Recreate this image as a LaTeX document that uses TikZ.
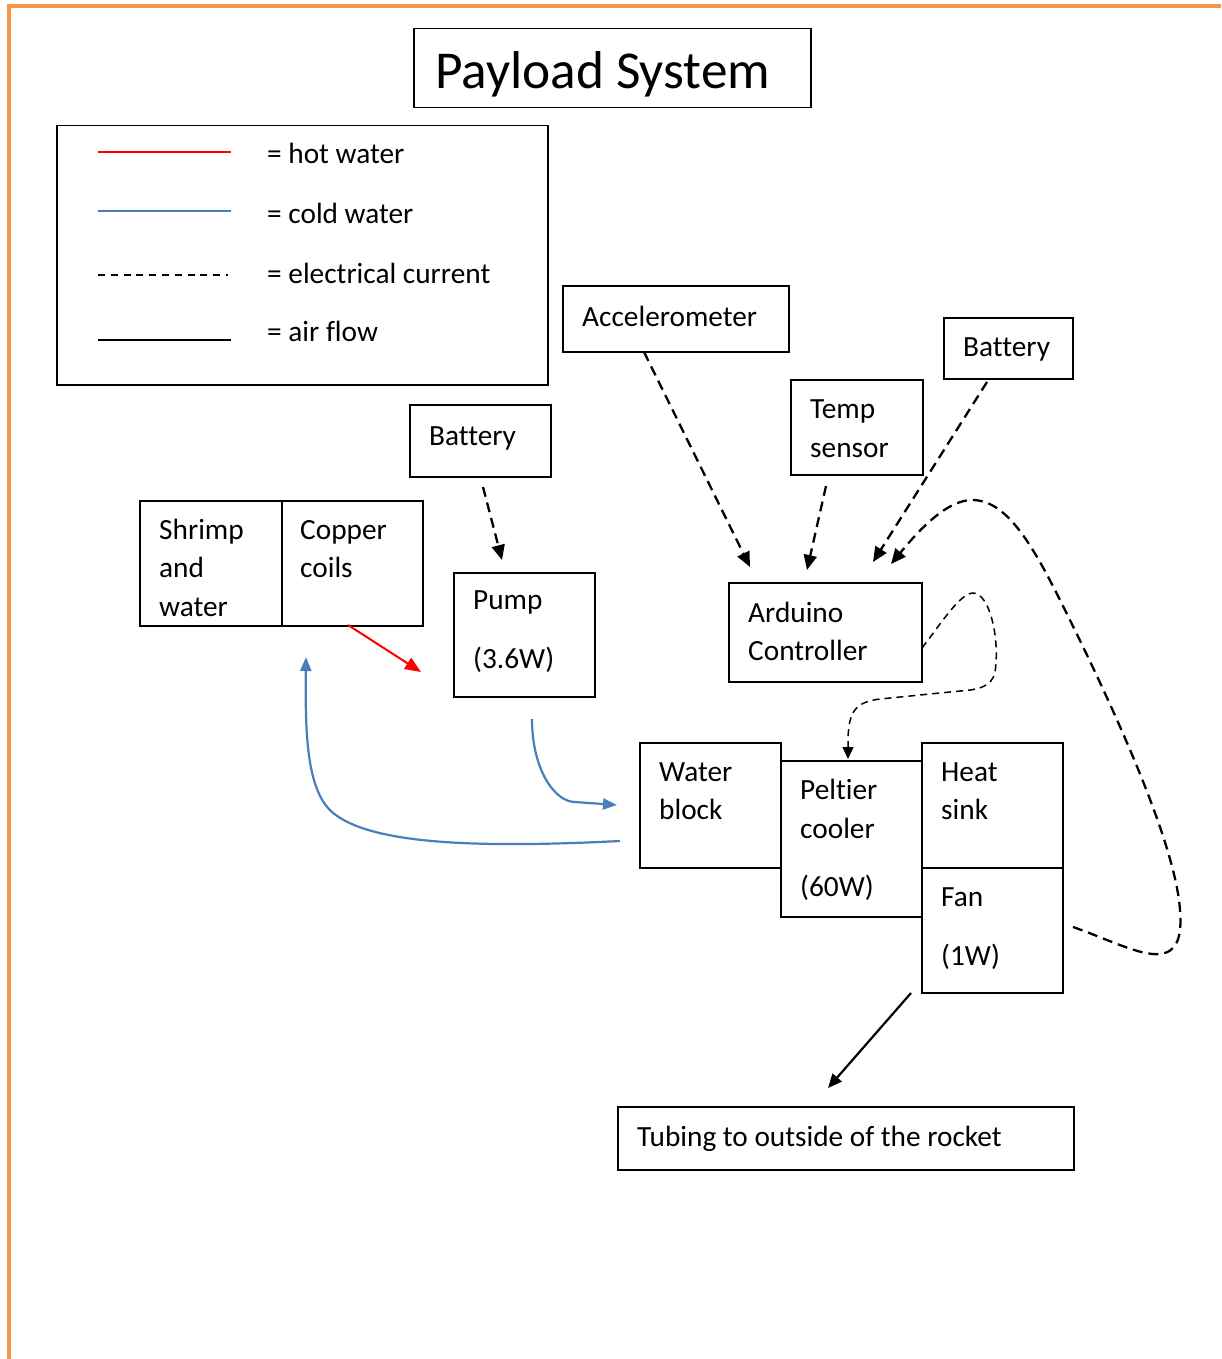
\documentclass[tikz,border=0pt]{standalone}
\usepackage{fontspec}
\setmainfont{Carlito}[Ligatures={NoCommon}]
\usetikzlibrary{arrows.meta}
\definecolor{borderorange}{HTML}{F79646}
\definecolor{coldblue}{HTML}{4A7EBB}
\definecolor{hotred}{HTML}{FF0000}
\begin{document}
\begin{tikzpicture}[x=1pt,y=-1pt,
  box/.style={draw, line width=1.5pt, inner sep=0pt, anchor=north west},
  txt/.style={anchor=base west, inner sep=0pt, font=\fontsize{29.3}{35}\selectfont},
  titletxt/.style={anchor=base west, inner sep=0pt, font=\fontsize{53.3}{60}\selectfont},
  elec/.style={line width=2.3pt, dash pattern=on 10pt off 6pt, -{Triangle[length=15pt,width=13pt]}},
  electhin/.style={line width=1.5pt, dash pattern=on 7pt off 5pt, -{Triangle[length=12pt,width=11pt]}},
  hot/.style={hotred, line width=2pt, -{Triangle[length=16pt,width=13pt]}},
  cold/.style={coldblue, line width=2.2pt, -{Triangle[length=14pt,width=11pt]}},
  air/.style={black, line width=2.2pt, -{Triangle[length=14pt,width=12pt]}},
  legline/.style={line width=2pt},
]
\useasboundingbox (0,0) rectangle (1221,1359);
\fill[white] (0,0) rectangle (1221,1359);
% page border
\draw[borderorange, line width=4pt] (8.5,1359) -- (8.5,6.5) -- (1221,6.5);

% boxes
\node[box, minimum width=397pt, minimum height=79pt] (titlebox) at (413,28) {};
\node[box, minimum width=491pt, minimum height=259pt] (legend) at (56,125) {};
\node[box, minimum width=226pt, minimum height=66pt] (acc) at (562,285) {};
\node[box, minimum width=129pt, minimum height=61pt] (batR) at (943,317) {};
\node[box, minimum width=132pt, minimum height=95pt] (temp) at (790,379) {};
\node[box, minimum width=141pt, minimum height=72pt] (batL) at (409,404) {};
\node[box, minimum width=142pt, minimum height=125pt] (shrimp) at (139,500) {};
\node[box, minimum width=141pt, minimum height=125pt] (copper) at (281,500) {};
\node[box, minimum width=141pt, minimum height=124pt] (pump) at (453,572) {};
\node[box, minimum width=193pt, minimum height=99pt] (ard) at (728,582) {};
\node[box, minimum width=141pt, minimum height=125pt] (water) at (639,742) {};
\node[box, minimum width=141pt, minimum height=156pt, fill=white] (peltier) at (780,760) {};
\node[box, minimum width=141pt, minimum height=125pt] (heat) at (921,742) {};
\node[box, minimum width=141pt, minimum height=125pt] (fan) at (921,867) {};
\node[box, minimum width=456pt, minimum height=63pt] (tube) at (617,1106) {};

% texts
\node[titletxt] (ttitle) at (435,89) {Payload System};
\node[txt] (lg1) at (267,164) {= hot water};
\node[txt] (lg2) at (267,223) {= cold water};
\node[txt] (lg3) at (267,283) {= electrical current};
\node[txt] (lg4) at (267,341) {= air flow};
\node[txt] (tacc) at (582,326) {Accelerometer};
\node[txt] (tbatR) at (963,356) {Battery};
\node[txt] (ttemp1) at (810,418) {Temp};
\node[txt] (ttemp2) at (810,457) {sensor};
\node[txt] (tbatL) at (429,445) {Battery};
\node[txt] (tsh1) at (159,539) {Shrimp};
\node[txt] (tsh2) at (159,577) {and};
\node[txt] (tsh3) at (159,616) {water};
\node[txt] (tcu1) at (300,539) {Copper};
\node[txt] (tcu2) at (300,577) {coils};
\node[txt] (tpu1) at (473,609) {Pump};
\node[txt] (tpu2) at (473,668) {(3.6W)};
\node[txt] (tar1) at (748,622) {Arduino};
\node[txt] (tar2) at (748,660) {Controller};
\node[txt] (twb1) at (659,781) {Water};
\node[txt] (twb2) at (659,819) {block};
\node[txt] (tpe1) at (800,799) {Peltier};
\node[txt] (tpe2) at (800,838) {cooler};
\node[txt] (tpe3) at (800,896) {(60W)};
\node[txt] (ths1) at (941,781) {Heat};
\node[txt] (ths2) at (941,819) {sink};
\node[txt] (tfa1) at (941,906) {Fan};
\node[txt] (tfa2) at (941,965) {(1W)};
\node[txt] (ttube) at (637,1146) {Tubing to outside of the rocket};

% legend samples
\coordinate (l1a) at (98,152); \coordinate (l1b) at (231,152);
\coordinate (l2a) at (98,211); \coordinate (l2b) at (231,211);
\coordinate (l3a) at (98,275); \coordinate (l3b) at (228,275);
\coordinate (l4a) at (98,340); \coordinate (l4b) at (231,340);
\draw[legline, hotred, line width=1.5pt] (l1a) -- (l1b);
\draw[legline, coldblue] (l2a) -- (l2b);
\draw[line width=1.5pt, dash pattern=on 7pt off 5.8pt] (l3a) -- (l3b);
\draw[legline] (l4a) -- (l4b);

% connector end points
\coordinate (accS) at (644,352);  \coordinate (ardA) at (750,567);
\coordinate (tempS) at (826,486); \coordinate (ardT) at (807,570);
\coordinate (batRS) at (987,382); \coordinate (ardB) at (873,562);
\coordinate (fanR) at (1073,927); \coordinate (ardF) at (891,564);
\coordinate (batLS) at (483,487); \coordinate (pumpT) at (502,560);
\coordinate (ardR) at (922,648);  \coordinate (peltT) at (848,759);
\coordinate (copB) at (348,625);  \coordinate (pumpL) at (421,672);
\coordinate (pumpB) at (532,719); \coordinate (waterL) at (617,805);
\coordinate (waterL2) at (620,841); \coordinate (shrB) at (306,657);
\coordinate (fanB) at (911,993);  \coordinate (tubeT) at (828,1088);

% electrical
\draw[elec] (accS) -- (ardA);
\draw[elec] (tempS) -- (ardT);
\draw[elec] (batRS) -- (ardB);
\draw[elec] (batLS) -- (pumpT);
\draw[elec] (fanR) .. controls (1110,940) and (1140,956) .. (1160,954)
  .. controls (1178,952) and (1182,935) .. (1180,910)
  .. controls (1175,840) and (1110,700) .. (1060,600)
  .. controls (1030,540) and (1005,500) .. (972,500)
  .. controls (945,500) and (915,535) .. (ardF);
\draw[electhin] (ardR) .. controls (940,625) and (960,593) .. (973,593)
  .. controls (990,593) and (1000,640) .. (995,672)
  .. controls (992,688) and (975,690) .. (960,691)
  -- (880,699) .. controls (855,702) and (849,712) .. (848,738) -- (peltT);

% water
\draw[hot] (copB) -- (pumpL);
\draw[cold] (pumpB) .. controls (532,770) and (555,802) .. (575,802) -- (waterL);
\draw[cold] (waterL2) .. controls (480,848) and (370,845) .. (332,812)
  .. controls (307,790) and (305,735) .. (shrB);

% air
\draw[air] (fanB) -- (tubeT);
\end{tikzpicture}
\end{document}
